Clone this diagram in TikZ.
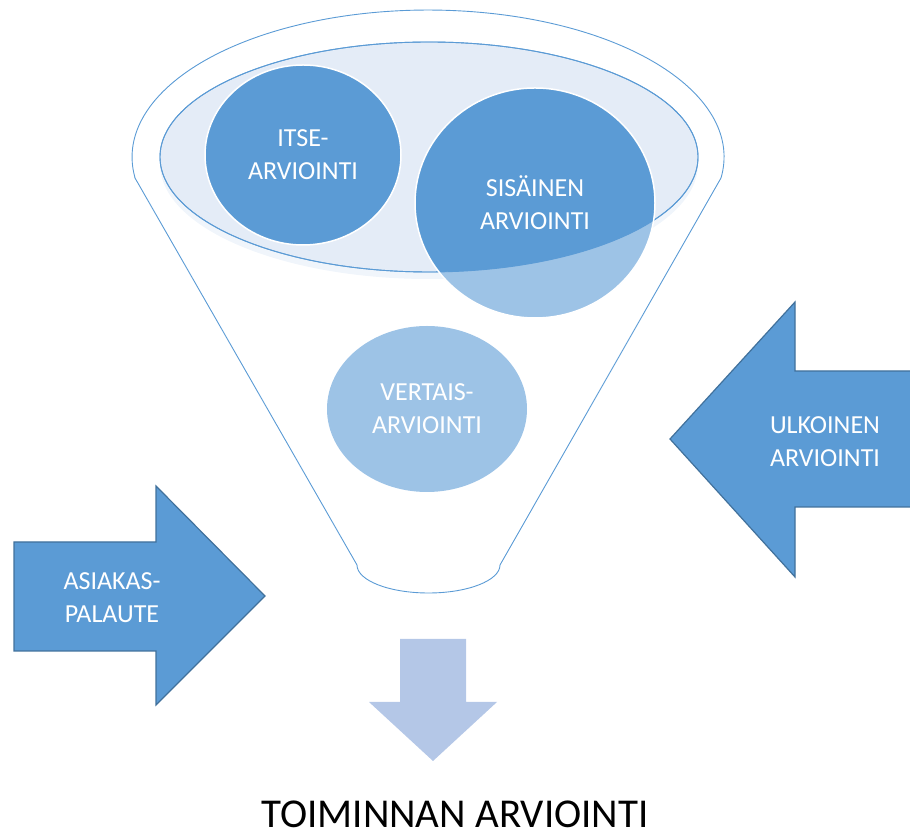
\documentclass[tikz,border=0pt]{standalone}
\usepackage{fontspec}
\setmainfont{Carlito}
\usetikzlibrary{shapes.geometric}
\definecolor{accblue}{HTML}{5B9BD5}
\definecolor{lightblue}{HTML}{9DC3E6}
\definecolor{paleblue}{HTML}{E4ECF7}
\definecolor{arrowline}{HTML}{41719C}
\definecolor{downblue}{HTML}{B4C7E7}
\begin{document}
\begin{tikzpicture}[
    x=1pt, y=1pt,
    funnel/.style={draw=accblue, line width=0.9pt},
    bubble/.style={ellipse, inner sep=0pt, text=white, align=center, font=\fontsize{26}{33}\selectfont},
    bigarrow/.style={fill=accblue, draw=arrowline, line width=1.2pt, line join=miter},
    arrowtext/.style={text=white, align=center, font=\fontsize{26}{33}\selectfont}
  ]
  \useasboundingbox (0,0) rectangle (910,840);
  \coordinate (rim) at (429,683);
  \draw[funnel] (135,662) -- (357,275)
      arc[start angle=180, end angle=360, x radius=71.5, y radius=28]
      -- (721,662)
      arc[start angle=-8.2, end angle=188.2, x radius=296, y radius=147] -- cycle;
  \fill[paleblue!55] ([yshift=-7pt]rim) ellipse[x radius=269, y radius=115];
  \draw[funnel, fill=paleblue] (rim) ellipse[x radius=269, y radius=115];
  \node[bubble, fill=accblue, draw=white, line width=1.5pt,
        minimum width=196pt, minimum height=180pt] (itse) at (303,685) {ITSE-\\ARVIOINTI};
  \fill[lightblue] (535,637) ellipse[x radius=120, y radius=115];
  \begin{scope}
    \clip (rim) ellipse[x radius=269, y radius=115];
    \fill[accblue] (535,637) ellipse[x radius=120, y radius=115];
  \end{scope}
  \draw[funnel] (rim) ellipse[x radius=269, y radius=115];
  \node[bubble, draw=white, line width=1.5pt,
        minimum width=240pt, minimum height=230pt] (sis) at (535,637) {SISÄINEN\\ARVIOINTI};
  \node[bubble, fill=lightblue,
        minimum width=200pt, minimum height=166pt] (vertais) at (427,431) {VERTAIS-\\ARVIOINTI};
  \draw[bigarrow] (914,469) -- (795,469) -- (795,538) -- (670,401)
      -- (795,263) -- (795,333) -- (914,333);
  \node[arrowtext] (ulkoinen) at (825,398) {ULKOINEN\\ARVIOINTI};
  \draw[bigarrow] (14,298) -- (156,298) -- (156,354) -- (265,244)
      -- (156,135) -- (156,189) -- (14,189) -- cycle;
  \node[arrowtext] (asiakas) at (112,242) {ASIAKAS-\\PALAUTE};
  \fill[downblue] (400,201) -- (466,201) -- (466,138) -- (497,138)
      -- (433,79) -- (369,138) -- (400,138) -- cycle;
  \node[anchor=base, inner sep=0pt, font=\fontsize{41}{49}\selectfont] (result) at (455,12) {TOIMINNAN ARVIOINTI};
\end{tikzpicture}
\end{document}
